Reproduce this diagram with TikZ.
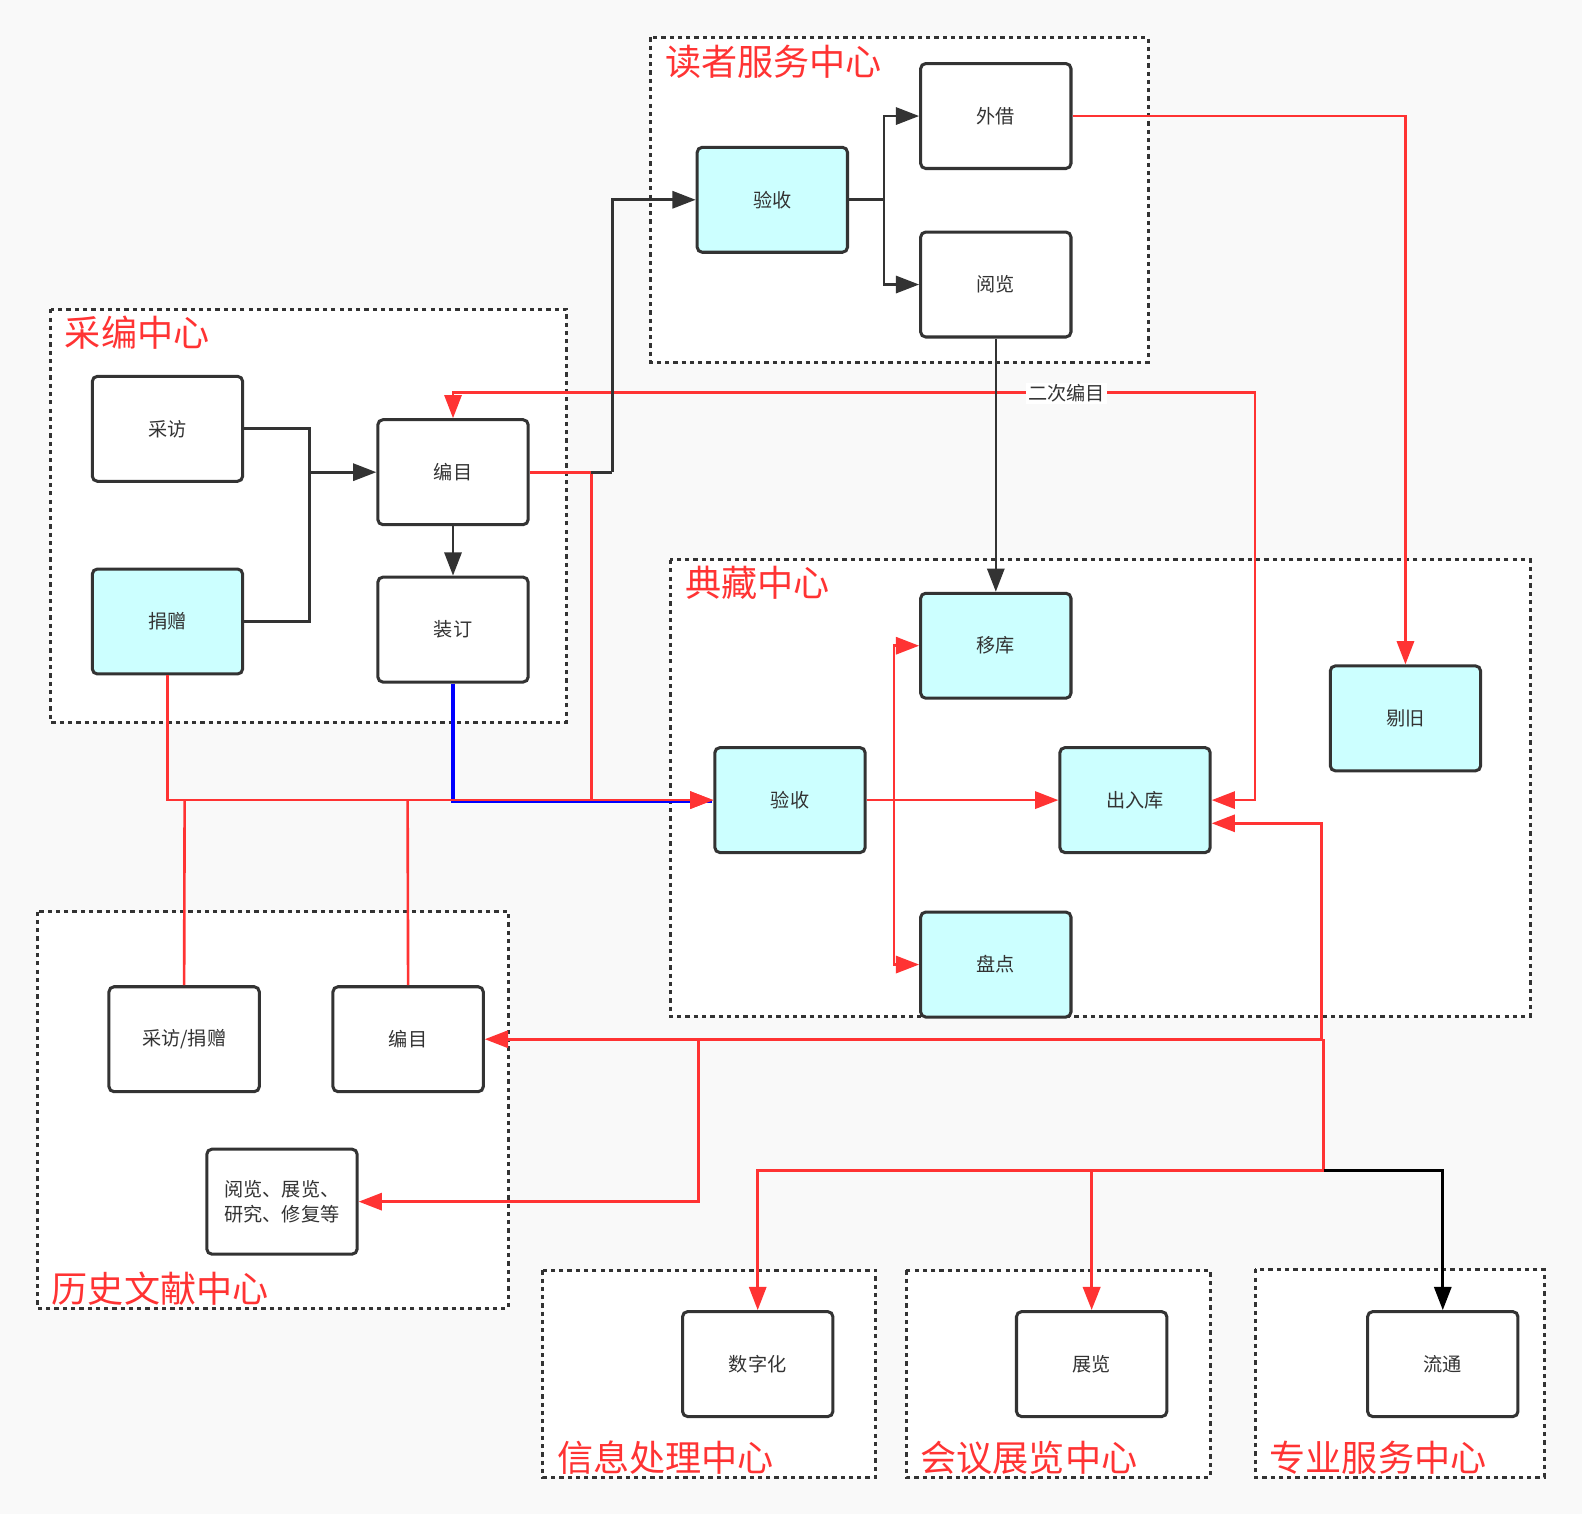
\documentclass[tikz,border=0pt]{standalone}
\usepackage{fontspec}
\newfontfamily\cjk{Noto Sans CJK SC}
\usetikzlibrary{arrows.meta}
\definecolor{cRed}{HTML}{FF3333}
\definecolor{cBox}{HTML}{333333}
\definecolor{cTxt}{HTML}{333333}
\definecolor{cCyan}{HTML}{CCFFFF}
\definecolor{cBg}{HTML}{F9F9F9}
\definecolor{cBlue}{HTML}{0000FF}
\begin{document}
\begin{tikzpicture}[x=0.5pt,y=-0.5pt,
  box/.style={draw=cBox, line width=1.5pt, rounded corners=2.5pt, fill=white,
    minimum width=74.5pt, minimum height=52pt, inner sep=0pt,
    font=\cjk\fontsize{9.5pt}{12.4pt}\selectfont, text=cTxt, align=center},
  cyanbox/.style={box, fill=cCyan},
  cont/.style={draw=cBox, fill=white, line width=1.5pt, dash pattern=on 2.1pt off 2pt},
  ttl/.style={anchor=base west, inner sep=0pt, text=cRed, font=\cjk\fontsize{17.9pt}{20pt}\selectfont},
  dk/.style={line width=1.3pt, draw=cBox},
  rl/.style={line width=1.3pt, draw=cRed},
  rthick/.style={line width=1.7pt, draw=cRed},
  bl/.style={line width=1.6pt, draw=cBlue},
  blk/.style={line width=1.3pt, draw=black},
  arr/.style={-{Triangle[length=11.5pt,width=8.5pt]}},
  darr/.style={{Triangle[length=11.5pt,width=8.5pt]}-{Triangle[length=11.5pt,width=8.5pt]}},
  lbl/.style={fill=white, inner sep=1pt, font=\cjk\fontsize{9.5pt}{11pt}\selectfont, text=cTxt}
]
% background
\fill[cBg] (0,0) rectangle (1568,1501);
\useasboundingbox (0,0) rectangle (1568,1501);

% containers
\draw[cont] (645,37) rectangle (1138,359);
\draw[cont] (50.5,306.5) rectangle (561,716);
\draw[cont] (664.5,555) rectangle (1517,1007.5);
\draw[cont] (37,903.5) rectangle (504,1296.5);
\draw[cont] (538,1259) rectangle (868,1464);
\draw[cont] (898,1259) rectangle (1199.5,1464);
\draw[cont] (1244,1258) rectangle (1530.5,1464);

% titles
\node[ttl] (t1) at (659,74.7) {读者服务中心};
\node[ttl] (t2) at (64,343.7) {采编中心};
\node[ttl] (t3) at (679,591.7) {典藏中心};
\node[ttl] (t4) at (51,1290.7) {历史文献中心};
\node[ttl] (t5) at (552,1458.3) {信息处理中心};
\node[ttl] (t6) at (912,1458.3) {会议展览中心};
\node[ttl] (t7) at (1258,1458.3) {专业服务中心};

% boxes
\node[box] (wj) at (987,115) {外借};
\node[cyanbox] (ys1) at (765.5,198) {验收};
\node[box] (yl) at (987,282) {阅览};
\node[box] (cf) at (166,425) {采访};
\node[box] (by) at (449,468) {编目};
\node[cyanbox] (jz) at (166,616) {捐赠};
\node[box] (zd) at (449,624) {装订};
\node[cyanbox] (yk) at (987,640) {移库};
\node[cyanbox] (tj) at (1393,712) {剔旧};
\node[cyanbox] (ys2) at (783,793) {验收};
\node[cyanbox] (crk) at (1125,793) {出入库};
\node[cyanbox] (pd) at (987,956) {盘点};
\node[box] (cfjz) at (182.5,1030) {采访/捐赠};
\node[box] (hby) at (404.5,1030) {编目};
\node[box] (ydzl) at (279.5,1191) {阅览、展览、\\研究、修复等};
\node[box] (szh) at (751,1352) {数字化};
\node[box] (zl) at (1082,1352) {展览};
\node[box] (lt) at (1430,1352) {流通};

% coordinates
\coordinate (p816) at (1310,816);
\coordinate (j1) at (1310,1030);
\coordinate (j1b) at (1312,1030);
\coordinate (j2) at (1312,1160);
\coordinate (k1) at (1082,1160);
\coordinate (q1) at (692,1030);
\coordinate (r1) at (183,793);
\coordinate (r2) at (404,793);
\coordinate (b1) at (449,794.5);
\coordinate (b2) at (706,794.5);
\coordinate (s1) at (1244,389);
\coordinate (m1) at (307,468);
\coordinate (m2) at (607,468);
\coordinate (m3) at (586,468);
\coordinate (m4) at (876,198);
\coordinate (m5) at (886,956);

% red connectors
\draw[rl,darr] (by.north) |- (s1) |- (crk.east);
\node[lbl] (l2) at (1057,390) {二次编目};
\draw[rl,arr] (wj.east) -| (tj.north);
\draw[bl] (zd.south) -- (b1) -- (b2);
\draw[rl,arr] (by.east) -- (m3) |- (ys2.west);
\draw[rl,arr] (jz.south) |- (ys2.west);
\draw[rl] (r1) -- (cfjz.north);
\draw[rl] (r2) -- (hby.north);
\draw[rl,arr] (ys2.east) -- (crk.west);
\draw[rl,darr] (yk.west) -| (m5) -- (pd.west);
\draw[rl,arr] (j1) |- (crk.east |- p816);
\draw[rl,arr] (j1) -- (hby.east);
\draw[rl,arr] (q1) |- (ydzl.east);
\draw[rthick] (j1b) -- (j2);
\draw[rl,arr] (j2) -| (szh.north);
\draw[rthick] (j2) -- (k1);
\draw[rthick,arr] (k1) -- (zl.north);
\draw[blk,arr] (j2) -| (lt.north);

% dark connectors
\draw[dk] (cf.east) -| (jz.east -| m1) -- (jz.east);
\draw[dk,arr] (m1) -- (by.west);
\draw[dk,arr] (by.south) -- (zd.north);
\draw[dk] (m3) -- (m2);
\draw[dk,arr] (m2) |- (ys1.west);
\draw[dk] (ys1.east) -- (m4);
\draw[dk,arr] (m4) |- (wj.west);
\draw[dk,arr] (m4) |- (yl.west);
\draw[dk,arr] (yl.south) -- (yk.north);
\end{tikzpicture}
\end{document}
